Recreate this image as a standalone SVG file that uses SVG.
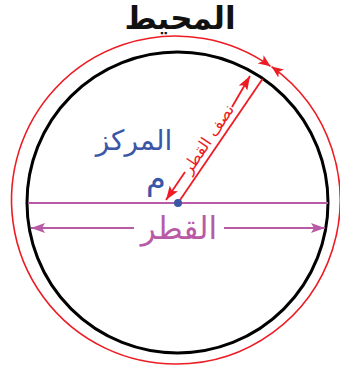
<svg xmlns="http://www.w3.org/2000/svg" width="340" height="375" viewBox="0 0 340 375">
<style>
.ar{font-family:"DejaVu Sans","Noto Sans",sans-serif;text-anchor:middle}
.red{stroke:#ed1c24;fill:none}
.pur{stroke:#b85aa6;fill:none}
</style>
<defs>
<marker id="ra" viewBox="0 0 12 10" refX="12" refY="5" markerWidth="12" markerHeight="10" markerUnits="userSpaceOnUse" orient="auto"><path d="M0,0L12,5L0,10L3,5Z" fill="#ed1c24"/></marker>
<marker id="ra2" viewBox="0 0 14 10" refX="14" refY="5" markerWidth="14" markerHeight="10" markerUnits="userSpaceOnUse" orient="auto"><path d="M0,0L14,5L0,10L3,5Z" fill="#ed1c24"/></marker>
<marker id="pa" viewBox="0 0 14 10" refX="14" refY="5" markerWidth="14" markerHeight="10" markerUnits="userSpaceOnUse" orient="auto"><path d="M0,0L14,5L0,10L3,5Z" fill="#b85aa6"/></marker>
</defs>
<g id="circumference">
<path class="red" stroke-width="1.6" d="M176,364 A164,164 0 1 1 270.5,66.3" marker-end="url(#ra)"/>
<path class="red" stroke-width="1.6" d="M176,364 A164,164 0 0 0 271.5,66.6" marker-end="url(#ra)"/>
<text class="ar" x="180" y="29" font-size="31" font-weight="bold" fill="#111">المحيط</text>
</g>
<g id="circle">
<circle cx="177.5" cy="202.5" r="150.5" fill="none" stroke="#000" stroke-width="3"/>
</g>
<g id="connectors">
<line class="pur" x1="28" y1="203" x2="328" y2="203" stroke-width="2"/>
<line class="pur" x1="134" y1="228" x2="31" y2="228" stroke-width="2" marker-end="url(#pa)"/>
<line class="pur" x1="224" y1="228" x2="325" y2="228" stroke-width="2" marker-end="url(#pa)"/>
<line class="red" x1="178" y1="203" x2="262.5" y2="79" stroke-width="1.8"/>
<line class="red" x1="185" y1="172" x2="166" y2="200" stroke-width="1.8" marker-end="url(#ra2)"/>
<line class="red" x1="232" y1="107" x2="250" y2="76" stroke-width="1.8" marker-end="url(#ra2)"/>
</g>
<g id="radius-label">
<text class="ar" transform="translate(212.5,142) rotate(-56)" font-size="16" fill="#ed1c24">نصف القطر</text>
</g>
<g id="diameter-label">
<text class="ar" x="179" y="239" font-size="31" fill="#b85aa6">القطر</text>
</g>
<g id="center">
<circle cx="178" cy="203" r="4" fill="#3a56a6"/>
<text class="ar" x="134" y="150" font-size="28" fill="#3a56a6">المركز</text>
<text class="ar" x="156" y="189" font-size="32" fill="#3a56a6">م</text>
</g>
</svg>
